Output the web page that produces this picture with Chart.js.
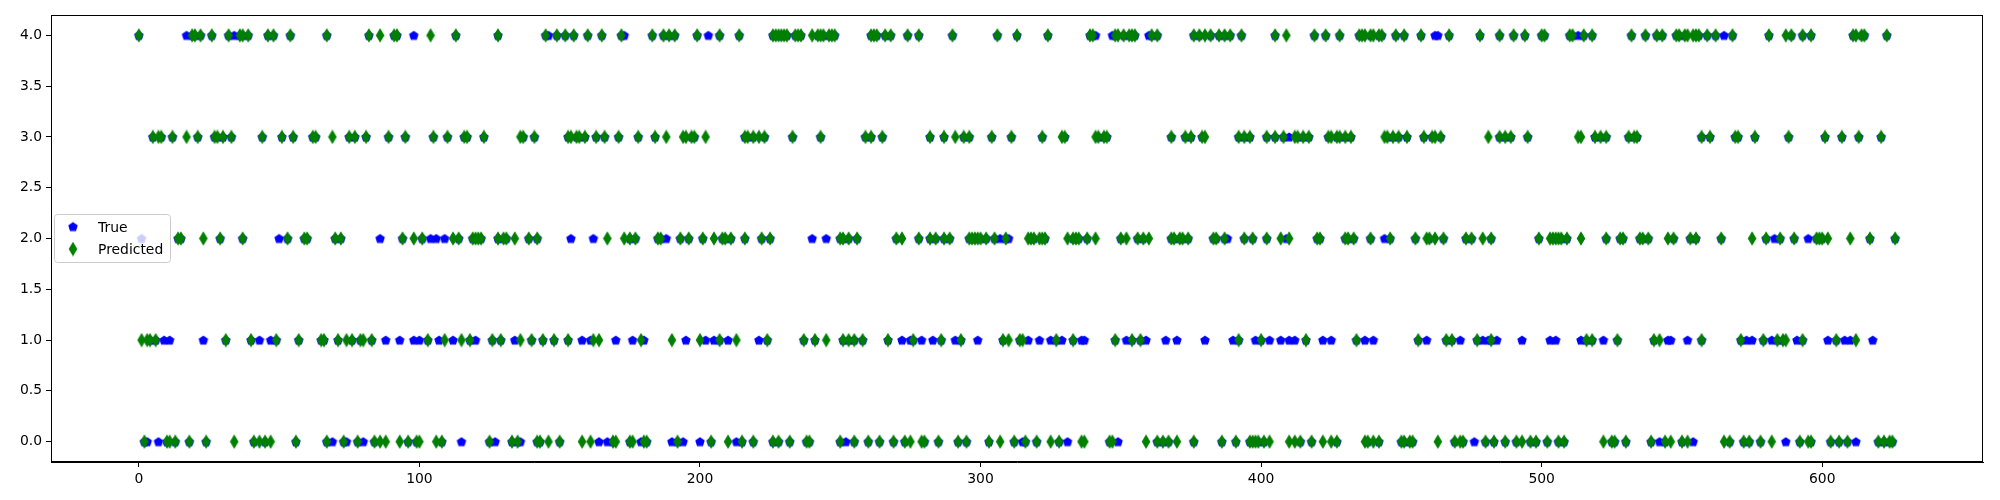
<!DOCTYPE html>
<html>
<head>
<meta charset="utf-8">
<script src="https://cdn.jsdelivr.net/npm/chart.js@4.4.0/dist/chart.umd.min.js"></script>
<style>
  html, body { margin: 0; padding: 0; background: #fff; }
</style>
</head>
<body>
<canvas id="myChart" width="2000" height="500"></canvas>
<script>
// sample index where each class was predicted (green diamonds)
const pred0 = [2,10,11,13,18,24,34,41,43,45,47,56,67,73,78,84,86,88,93,96,99,100,106,108,125,133,135,142,143,146,150,158,161,169,170,175,176,180,181,192,204,210,215,219,226,228,232,238,239,250,255,260,264,269,273,275,279,280,285,292,295,303,307,312,316,320,325,328,336,337,346,347,359,363,365,367,370,376,386,391,396,397,398,399,401,403,410,412,414,418,422,425,427,437,438,440,442,450,451,453,454,463,469,471,472,480,483,487,491,493,496,498,502,506,508,522,525,526,530,539,544,546,550,552,565,567,572,574,578,582,592,595,596,603,606,609,620,622,624,625];
const pred1 = [1,3,4,6,31,40,49,57,65,66,71,74,76,79,80,83,103,109,115,118,126,129,136,140,144,148,153,162,164,179,190,200,207,213,224,237,241,245,251,253,255,258,267,276,286,293,308,310,314,315,327,333,348,354,357,392,400,416,434,456,466,468,477,482,516,518,527,540,542,557,571,579,584,586,587,593,605,612];
const pred2 = [14,15,23,29,37,53,59,60,70,72,94,98,101,112,114,119,120,121,122,128,130,131,134,139,142,167,173,175,177,185,186,193,196,201,205,208,209,211,216,222,225,250,251,253,256,270,272,278,282,284,287,289,296,297,298,299,300,302,305,309,317,318,319,321,322,323,331,333,334,335,338,341,350,352,356,358,360,368,369,371,372,374,383,384,387,394,397,402,407,410,420,421,430,431,433,439,446,455,459,460,462,465,473,475,479,482,499,503,504,505,506,507,509,514,523,528,529,535,536,538,545,547,553,555,564,575,580,585,590,598,599,600,602,610,617,626];
const pred3 = [5,7,8,12,17,21,27,28,30,33,44,51,55,62,63,69,75,77,81,89,95,105,110,116,117,123,136,137,141,153,154,156,157,159,163,166,171,178,184,188,194,195,197,198,202,216,217,219,221,223,233,243,259,261,265,282,287,291,294,296,304,311,322,329,330,341,342,344,345,368,373,375,379,380,392,394,396,402,405,408,412,413,415,417,424,425,427,428,430,432,444,445,447,449,452,458,461,462,464,481,485,487,489,495,513,514,519,521,523,531,533,534,557,560,569,570,576,588,601,607,613,621];
const pred4 = [0,19,20,22,26,32,36,37,39,46,48,54,67,82,86,91,92,104,113,128,145,149,152,155,160,165,172,183,187,189,191,199,207,214,226,227,228,229,230,231,234,235,236,240,242,243,244,246,247,248,261,262,263,266,268,274,278,290,306,313,324,339,340,348,349,351,353,354,355,361,363,376,378,380,382,385,387,389,393,405,409,419,423,428,435,436,437,439,440,442,443,448,451,457,467,478,485,490,494,500,501,510,511,515,518,532,537,541,543,548,549,551,552,554,555,556,559,562,568,581,587,589,593,596,611,612,614,615,623];

// samples where the true class differs from the prediction (blue pentagons showing)
const true0 = [3,7,69,74,80,115,127,136,164,167,179,190,194,200,213,252,315,331,349,476,542,554,587,612];
const true1 = [9,11,23,43,47,88,93,98,100,107,112,120,134,158,161,170,176,180,195,202,205,210,221,272,275,279,283,291,299,317,321,325,329,336,337,352,359,366,370,380,390,398,403,407,410,412,422,425,437,440,459,471,479,481,484,493,503,505,514,522,545,546,552,573,575,582,591,602,608,610,618];
const true2 = [1,50,86,104,106,109,154,162,188,240,245,307,310,388,409,444,583,595];
const true3 = [410];
const true4 = [17,34,98,146,173,203,341,347,360,462,463,513,565];

const nSamples = 627;
const xTicks = [0,100,200,300,400,500,600];
const yTicks = [0,0.5,1,1.5,2,2.5,3,3.5,4];

const predLists = [pred0, pred1, pred2, pred3, pred4];
const trueLists = [true0, true1, true2, true3, true4];

const missed = new Set();
trueLists.forEach(l => l.forEach(i => missed.add(i)));

let predPoints = [];
let truePoints = [];
predLists.forEach((l, k) => {
  l.forEach(i => {
    predPoints.push({x: i, y: k});
    if (!missed.has(i)) truePoints.push({x: i, y: k});
  });
});
trueLists.forEach((l, k) => {
  l.forEach(i => truePoints.push({x: i, y: k}));
});

// marker images: matplotlib 'p' and 'd' at markersize 6
function pentagon(){
  const c = document.createElement('canvas');
  c.width = 12; c.height = 12;
  const g = c.getContext('2d');
  const r = 4.2;
  g.beginPath();
  for (let k = 0; k < 5; k++) {
    const a = -Math.PI/2 + k*2*Math.PI/5;
    const px = 6 + r*Math.cos(a), py = 6.4 + r*Math.sin(a);
    if (k == 0) g.moveTo(px, py); else g.lineTo(px, py);
  }
  g.closePath();
  g.fillStyle = '#0000ff';
  g.strokeStyle = '#0000ff';
  g.lineWidth = 1.3;
  g.fill(); g.stroke();
  return c;
}

function thinDiamond(){
  const c = document.createElement('canvas');
  c.width = 10; c.height = 15;
  const g = c.getContext('2d');
  g.beginPath();
  g.moveTo(5, 1.6);
  g.lineTo(8.55, 7.5);
  g.lineTo(5, 13.4);
  g.lineTo(1.45, 7.5);
  g.closePath();
  g.fillStyle = '#008000';
  g.strokeStyle = '#008000';
  g.lineWidth = 1.3;
  g.fill(); g.stroke();
  return c;
}

const bluePent = pentagon();
const greenDiam = thinDiamond();

const frameAndLegend = {
  id: 'frameAndLegend',
  afterDatasetsDraw(chart) {
    const ctx = chart.ctx;
    const a = chart.chartArea;
    ctx.save();
    ctx.strokeStyle = '#000';
    ctx.lineWidth = 1;
    ctx.strokeRect(Math.round(a.left) + 0.5, Math.round(a.top) + 0.5, Math.round(a.right - a.left) - 1, Math.round(a.bottom - a.top) - 1);

    // legend box
    ctx.beginPath();
    ctx.roundRect(54.5, 214.5, 116, 48, 3);
    ctx.fillStyle = 'rgba(255,255,255,0.8)';
    ctx.fill();
    ctx.strokeStyle = '#cccccc';
    ctx.stroke();
    ctx.drawImage(bluePent, 73 - 6, 227 - 6.4);
    ctx.drawImage(greenDiam, 73 - 5, 249 - 7.5);
    ctx.fillStyle = '#000';
    ctx.font = '13.9px "DejaVu Sans"';
    ctx.textBaseline = 'middle';
    ctx.fillText('True', 98, 228);
    ctx.fillText('Predicted', 98, 250);
    ctx.restore();
  }
};

new Chart(document.getElementById('myChart'), {
  type: 'scatter',
  data: {
    datasets: [{
      label: 'Predicted',
      data: predPoints,
      pointStyle: greenDiam,
      pointRadius: 5,
      order: 0
    }, {
      label: 'True',
      data: truePoints,
      pointStyle: bluePent,
      pointRadius: 5,
      order: 1
    }]
  },
  options: {
    responsive: false,
    animation: false,
    devicePixelRatio: 1,
    layout: { padding: { left: 0, top: 15, right: 17, bottom: 0 } },
    plugins: { legend: { display: false }, tooltip: { enabled: false } },
    scales: {
      x: {
        type: 'linear',
        min: -0.05 * (nSamples - 1),
        max: 1.05 * (nSamples - 1),
        afterBuildTicks: s => { s.ticks = xTicks.map(v => ({value: v})); },
        afterFit: s => { s.height = 38; },
        ticks: { color: '#000', font: { family: 'DejaVu Sans', size: 13.9 }, padding: 4, maxRotation: 0 },
        grid: { drawOnChartArea: false, drawTicks: true, tickLength: 5, tickColor: '#000' },
        border: { display: true, color: '#000' }
      },
      y: {
        min: -0.2,
        max: 4.2,
        afterBuildTicks: s => { s.ticks = yTicks.map(v => ({value: v})); },
        afterFit: s => { s.width = 51; },
        ticks: { color: '#000', font: { family: 'DejaVu Sans', size: 13.9 }, padding: 4,
          callback: v => Number(v).toFixed(1) },
        grid: { drawOnChartArea: false, drawTicks: true, tickLength: 5, tickColor: '#000' },
        border: { display: true, color: '#000' }
      }
    }
  },
  plugins: [frameAndLegend]
});
</script>
</body>
</html>
